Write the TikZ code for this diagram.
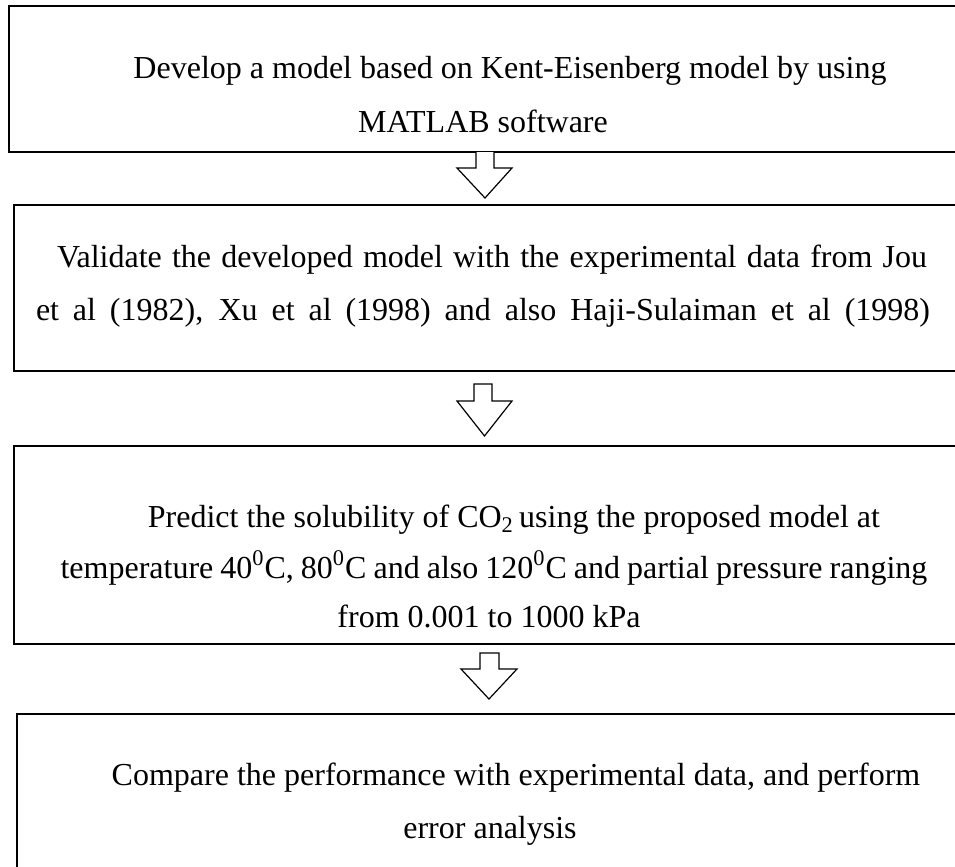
\documentclass[tikz,border=0pt]{standalone}
\usepackage{fontspec}
\setmainfont{Liberation Serif}
\begin{document}
\begin{tikzpicture}[x=0.5pt,y=-0.5pt,
  stepbox/.style={draw=black,line width=1pt},
  txt/.style={anchor=base,inner sep=0pt,font=\fontsize{16}{27}\selectfont},
  blockarrow/.style={draw=black,line width=0.6pt,fill=white,line join=miter}]
\useasboundingbox (0,0) rectangle (955,867);
% boxes
\draw[stepbox] (9,6) rectangle (970,152);
\draw[stepbox] (14,205) rectangle (970,371);
\draw[stepbox] (14,446) rectangle (970,644);
\draw[stepbox] (17,714) rectangle (970,880);
% box 1
\node[txt] (b1a) at (510,78) {Develop a model based on Kent-Eisenberg model by using};
\node[txt] (b1b) at (483,132) {MATLAB software};
% box 2
\node[txt] (b2a) at (492,267) {\makebox[435pt][s]{Validate the developed model with the experimental data from Jou}};
\node[txt] (b2b) at (483,320) {\makebox[447pt][s]{et al (1982), Xu et al (1998) and also Haji-Sulaiman et al (1998)}};
% box 3
\node[txt] (b3a) at (514,527) {Predict the solubility of CO\textsubscript{2}\,using the proposed model at};
\node[txt] (b3b) at (494,578) {\spaceskip=0.22em temperature 40\textsuperscript{0}C, 80\textsuperscript{0}C and also 120\textsuperscript{0}C and partial pressure ranging};
\node[txt] (b3c) at (489,627) {from 0.001 to 1000 kPa};
% box 4
\node[txt] (b4a) at (516,785) {Compare the performance with experimental data, and perform};
\node[txt] (b4b) at (490,838) {error analysis};
% block arrows
\coordinate (a1) at (485,152);
\draw[blockarrow] (a1) ++(-9,0) -- ++(0,16) -- ++(-19,0) -- (485,198) -- (512,168) -- ++(-18,0) -- ++(0,-16);
\coordinate (a2) at (483,384);
\draw[blockarrow] (a2) ++(-9,0) -- ++(0,17) -- ++(-17,0) -- (484.5,436) -- (512,401) -- ++(-20,0) -- ++(0,-17) -- cycle;
\coordinate (a3) at (489.5,653);
\draw[blockarrow] (a3) ++(-9.5,0) -- ++(0,16) -- ++(-19,0) -- (489,699) -- (517,669) -- ++(-18,0) -- ++(0,-16) -- cycle;
\end{tikzpicture}
\end{document}
